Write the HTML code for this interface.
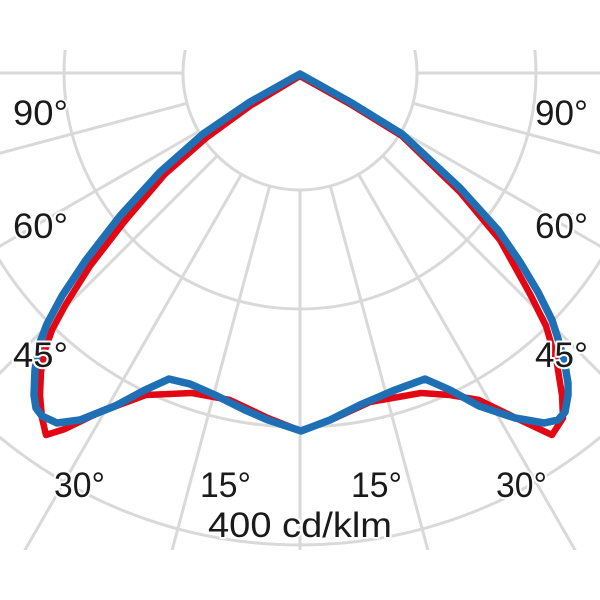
<!DOCTYPE html>
<html><head><meta charset="utf-8"><style>
html,body{margin:0;padding:0;background:#fff;width:600px;height:600px;overflow:hidden;}
svg{display:block;}
text{font-family:"Liberation Sans",sans-serif;font-size:35px;fill:#1a1a1a;}
</style></head><body>
<svg width="600" height="600" viewBox="0 0 600 600" xmlns="http://www.w3.org/2000/svg">
<defs><clipPath id="c"><rect x="0" y="50" width="600" height="500"/></clipPath></defs>
<g clip-path="url(#c)" stroke="#d9d9d9" stroke-width="3" fill="none">
<circle cx="300" cy="73" r="117"/>
<circle cx="300" cy="73" r="236"/>
<circle cx="300" cy="73" r="354"/>
<circle cx="300" cy="73" r="472"/>
<circle cx="300" cy="73" r="590"/>
<g id="rad">
<line x1="300" y1="190" x2="300" y2="800"/>
<line x1="269.7" y1="186" x2="118.8" y2="749"/>
<line x1="241.5" y1="174.3" x2="-50" y2="680"/>
<line x1="217.3" y1="155.7" x2="-200" y2="573"/>
<line x1="198.7" y1="131.5" x2="-300" y2="419"/>
<line x1="187" y1="103.3" x2="-400" y2="260"/>
<line x1="183" y1="73" x2="-400" y2="73"/>
</g>
<use href="#rad" transform="translate(600,0) scale(-1,1)"/>
</g>
<g fill="none" stroke-linejoin="round" stroke-linecap="round">
<polyline stroke="#e30613" stroke-width="6.5" points="300,76 250,106 206,138 165,174 124,222 90,266 66,304 52,330 45,350 41,372 40,395 42,418 46,435 65,429 100,412 146,395 192,393 230,400 268,418 301,431 335,418 370,402 421,393 450,395 479,400 520,420 552,435 563,418 562,395 557,364 546,326 530,294 500,240 460,192 402,136 350,104 300,76"/>
<polyline stroke="#1f6fb4" stroke-width="7.5" points="300,74 250,102 203,134 160,172 120,216 86,260 62,296 47,324 39,345 35,370 34,395 36,408 42,416 57,423 80,420 115,406 145,390 169,379 190,384 215,395 245,410 268,420 301,431 330,420 360,405 395,390 425,379 450,390 479,406 515,418 544,423 558,420 565,412 568,395 568,383 565,365 560,345 552,320 538,292 520,262 498,230 460,188 402,134 350,102 300,74"/>
</g>
<g stroke="#fff" stroke-width="4" paint-order="stroke" stroke-linejoin="round">
<text x="13" y="125" textLength="55" lengthAdjust="spacingAndGlyphs">90°</text>
<text x="535" y="125" textLength="53" lengthAdjust="spacingAndGlyphs">90°</text>
<text x="13" y="238" textLength="55" lengthAdjust="spacingAndGlyphs">60°</text>
<text x="535" y="238" textLength="53" lengthAdjust="spacingAndGlyphs">60°</text>
<text x="13" y="367" textLength="55" lengthAdjust="spacingAndGlyphs">45°</text>
<text x="535" y="367" textLength="53" lengthAdjust="spacingAndGlyphs">45°</text>
<text x="54" y="497" textLength="51" lengthAdjust="spacingAndGlyphs">30°</text>
<text x="496" y="497" textLength="51" lengthAdjust="spacingAndGlyphs">30°</text>
<text x="200" y="497" textLength="51" lengthAdjust="spacingAndGlyphs">15°</text>
<text x="351" y="497" textLength="51" lengthAdjust="spacingAndGlyphs">15°</text>
<text x="208" y="537" textLength="184" lengthAdjust="spacingAndGlyphs">400 cd/klm</text>
</g>
</svg>
</body></html>
